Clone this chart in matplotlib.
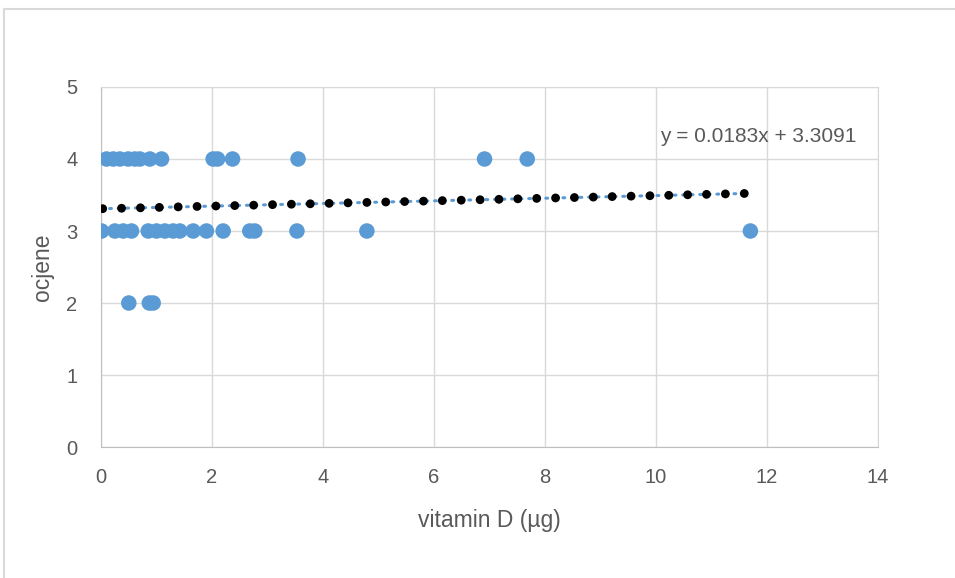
import matplotlib.pyplot as plt
from matplotlib.lines import Line2D

# measured points (vitamin D, grade)
vit_d = [0.10, 0.22, 0.34, 0.49, 0.61, 0.70, 0.88, 1.09, 2.02, 2.10, 2.37, 3.55, 6.91, 7.68,
         0.01, 0.25, 0.40, 0.55, 0.85, 1.00, 1.15, 1.30, 1.42, 1.66, 1.90, 2.20, 2.68, 2.77,
         3.53, 4.79, 11.70,
         0.50, 0.87, 0.94]
ocjene = [4, 4, 4, 4, 4, 4, 4, 4, 4, 4, 4, 4, 4, 4,
          3, 3, 3, 3, 3, 3, 3, 3, 3, 3, 3, 3, 3, 3,
          3, 3, 3,
          2, 2, 2]

# predicted values (black dots)
pred_x = [0.03, 0.37, 0.71, 1.05, 1.39, 1.73, 2.07, 2.41, 2.75, 3.09, 3.43, 3.77,
          4.11, 4.45, 4.79, 5.13, 5.47, 5.81, 6.15, 6.49, 6.83, 7.17, 7.51, 7.85,
          8.19, 8.53, 8.87, 9.21, 9.55, 9.89, 10.23, 10.57, 10.91, 11.25, 11.59]
pred_y = [3.310, 3.316, 3.322, 3.328, 3.335, 3.341, 3.347, 3.353, 3.359, 3.366, 3.372, 3.378,
          3.384, 3.391, 3.397, 3.403, 3.409, 3.415, 3.422, 3.428, 3.434, 3.440, 3.447, 3.453,
          3.459, 3.465, 3.471, 3.478, 3.484, 3.490, 3.496, 3.503, 3.509, 3.515, 3.521]

# trendline from the chart label
slope = 0.0183
intercept = 3.3091
trend_x = [0.0, 11.70]
trend_y = [intercept + slope * v for v in trend_x]

blue = '#5B9BD5'
text_col = '#595959'
plt.rcParams['font.family'] = ['Liberation Sans', 'DejaVu Sans']

fig = plt.figure(figsize=(9.55, 5.78), dpi=100)
ax = fig.add_axes([0.1058, 0.2266, 0.8136, 0.6229])

ax.scatter(vit_d, ocjene, s=125, color=blue, edgecolors='none', zorder=3)
ax.plot(trend_x, trend_y, color=blue, lw=2.2, linestyle=(0, (0.6, 2.2)),
        dash_capstyle='round', zorder=4)
ax.scatter(pred_x, pred_y, s=40, color='black', edgecolors='none', zorder=5)

ax.set_xlim(0, 14)
ax.set_ylim(0, 5)
ax.set_xticks(range(0, 15, 2))
ax.set_yticks(range(0, 6))
ax.grid(True, color='#D9D9D9', lw=1)
ax.set_axisbelow(True)
ax.tick_params(axis='x', length=0, labelsize=14.5, colors=text_col, pad=15)
ax.tick_params(axis='y', length=0, labelsize=14.5, colors=text_col, pad=17)
for side in ['top', 'right']:
    ax.spines[side].set_color('#D9D9D9')
for side in ['left', 'bottom']:
    ax.spines[side].set_color('#BFBFBF')

ax.set_xlabel('vitamin D (µg)', fontsize=16.5, color=text_col, labelpad=16)
ax.set_ylabel('ocjene', fontsize=16.5, color=text_col, labelpad=9)

ax.text(11.84, 4.31, 'y = 0.0183x + 3.3091', fontsize=15, color=text_col,
        ha='center', va='center')

# chart area outline (top and left visible)
fig.add_artist(Line2D([0.0045, 1.0], [0.984, 0.984], color='#D9D9D9', lw=1.5))
fig.add_artist(Line2D([0.0045, 0.0045], [0.0, 0.984], color='#D9D9D9', lw=1.5))

fig.savefig('out.png', dpi=100)
